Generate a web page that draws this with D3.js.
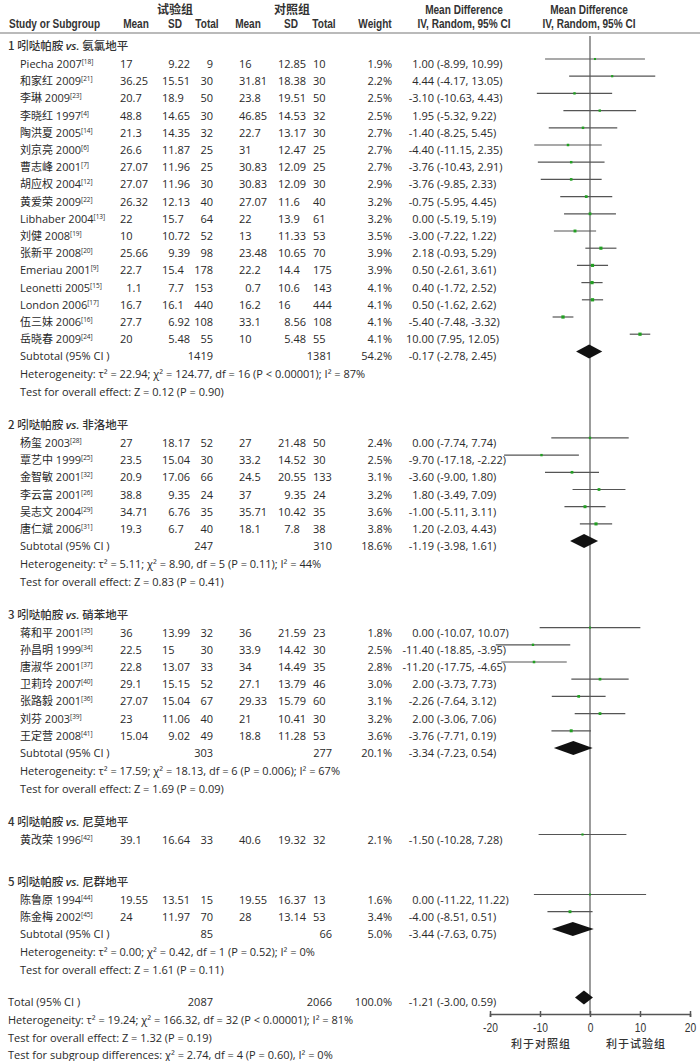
<!DOCTYPE html>
<html><head><meta charset="utf-8">
<script src="https://cdn.jsdelivr.net/npm/d3@7"></script>
<style>
body{margin:0;background:#fff}
text{font-family:'Open Sans','Noto Sans CJK SC',sans-serif;font-size:11px;fill:#2a2a2a}
.hdr{font-family:'Liberation Sans','Arial','Noto Sans CJK SC',sans-serif;font-size:12.6px;font-weight:bold;fill:#333}
.hcjk{font-family:'Noto Sans CJK SC',sans-serif;font-size:12px;font-weight:bold;fill:#333}
.gt{font-family:'Noto Sans CJK SC',sans-serif;font-size:11.5px;font-weight:500;fill:#333}
.cjk{font-family:'Open Sans','Noto Sans CJK SC',sans-serif}
.axis text{font-family:'Liberation Sans','Arial',sans-serif;font-size:12.8px;fill:#333}
.fav{font-family:'Noto Sans CJK SC',sans-serif;font-size:11px;font-weight:500;fill:#333;letter-spacing:1px}
</style>
</head><body>
<svg id="chart" width="700" height="1061"></svg>
<script>
// ---------------- data ----------------
const groupNumbers = [1, 2, 3, 4, 5];
const groupDrug = ["吲哒帕胺", "吲哒帕胺", "吲哒帕胺", "吲哒帕胺", "吲哒帕胺"];
const groupComparator = ["氨氯地平", "非洛地平", "硝苯地平", "尼莫地平", "尼群地平"];

const studyGroup = [0,0,0,0,0,0,0,0,0,0,0,0,0,0,0,0,0, 1,1,1,1,1,1, 2,2,2,2,2,2,2, 3, 4,4];
const studyNames = ["Piecha 2007","和家红 2009","李琳 2009","李晓红 1997","陶洪夏 2005","刘京亮 2000","曹志峰 2001","胡应权 2004","黄爱荣 2009","Libhaber 2004","刘健 2008","张新平 2008","Emeriau 2001","Leonetti 2005","London 2006","伍三妹 2006","岳晓春 2009",
  "杨玺 2003","覃艺中 1999","金智敏 2001","李云富 2001","吴志文 2004","唐仁斌 2006",
  "蒋和平 2001","孙昌明 1999","唐淑华 2001","卫莉玲 2007","张路毅 2001","刘芬 2003","王定营 2008",
  "黄改荣 1996",
  "陈鲁原 1994","陈金梅 2002"];
const studyRefs = [18,21,23,4,14,6,7,12,22,13,19,20,9,15,17,16,24, 28,25,32,26,29,31, 35,34,37,40,36,39,41, 42, 44,45];
const expMean = [17,36.25,20.7,48.8,21.3,26.6,27.07,27.07,26.32,22,10,25.66,22.7,1.1,16.7,27.7,20, 27,23.5,20.9,38.8,34.71,19.3, 36,22.5,22.8,29.1,27.07,23,15.04, 39.1, 19.55,24];
const expSD = [9.22,15.51,18.9,14.65,14.35,11.87,11.96,11.96,12.13,15.7,10.72,9.39,15.4,7.7,16.1,6.92,5.48, 18.17,15.04,17.06,9.35,6.76,6.7, 13.99,15,13.07,15.15,15.04,11.06,9.02, 16.64, 13.51,11.97];
const expN = [9,30,50,30,32,25,25,30,40,64,52,98,178,153,440,108,55, 52,30,66,24,35,40, 32,30,33,52,67,40,49, 33, 15,70];
const ctlMean = [16,31.81,23.8,46.85,22.7,31,30.83,30.83,27.07,22,13,23.48,22.2,0.7,16.2,33.1,10, 27,33.2,24.5,37,35.71,18.1, 36,33.9,34,27.1,29.33,21,18.8, 40.6, 19.55,28];
const ctlSD = [12.85,18.38,19.51,14.53,13.17,12.47,12.09,12.09,11.6,13.9,11.33,10.65,14.4,10.6,16,8.56,5.48, 21.48,14.52,20.55,9.35,10.42,7.8, 21.59,14.42,14.49,13.79,15.79,10.41,11.28, 19.32, 16.37,13.14];
const ctlN = [10,30,50,32,30,25,25,30,40,61,53,70,175,143,444,108,55, 50,30,133,24,35,38, 23,30,35,46,60,30,53, 32, 13,53];
const weights = [1.9,2.2,2.5,2.5,2.7,2.7,2.7,2.9,3.2,3.2,3.5,3.9,3.9,4.1,4.1,4.1,4.1, 2.4,2.5,3.1,3.2,3.6,3.8, 1.8,2.5,2.8,3.0,3.1,3.2,3.6, 2.1, 1.6,3.4];
const meanDiff = [1.00,4.44,-3.10,1.95,-1.40,-4.40,-3.76,-3.76,-0.75,0.00,-3.00,2.18,0.50,0.40,0.50,-5.40,10.00, 0.00,-9.70,-3.60,1.80,-1.00,1.20, 0.00,-11.40,-11.20,2.00,-2.26,2.00,-3.76, -1.50, 0.00,-4.00];
const ciLow = [-8.99,-4.17,-10.63,-5.32,-8.25,-11.15,-10.43,-9.85,-5.95,-5.19,-7.22,-0.93,-2.61,-1.72,-1.62,-7.48,7.95, -7.74,-17.18,-9.00,-3.49,-5.11,-2.03, -10.07,-18.85,-17.75,-3.73,-7.64,-3.06,-7.71, -10.28, -11.22,-8.51];
const ciHigh = [10.99,13.05,4.43,9.22,5.45,2.35,2.91,2.33,4.45,5.19,1.22,5.29,3.61,2.52,2.62,-3.32,12.05, 7.74,-2.22,1.80,7.09,3.11,4.43, 10.07,-3.95,-4.65,7.73,3.12,7.06,0.19, 7.28, 11.22,0.51];

const subExpN = [1419,247,303,null,85];
const subCtlN = [1381,310,277,null,66];
const subWeight = [54.2,18.6,20.1,null,5.0];
const subMD = [-0.17,-1.19,-3.34,null,-3.44];
const subLow = [-2.78,-3.98,-7.23,null,-7.63];
const subHigh = [2.45,1.61,0.54,null,0.75];
const hetTau2 = [22.94,5.11,17.59,null,0.00];
const hetChi2 = [124.77,8.90,18.13,null,0.42];
const hetDf = [16,5,6,null,1];
const hetP = ["P < 0.00001","P = 0.11","P = 0.006",null,"P = 0.52"];
const hetI2 = [87,44,67,null,0];
const testZ = [0.12,0.83,1.69,null,1.61];
const testP = ["0.90","0.41","0.09",null,"0.11"];

const totalExpN = 2087, totalCtlN = 2066, totalWeight = 100.0;
const totalMD = -1.21, totalLow = -3.00, totalHigh = 0.59;
const totalTau2 = 19.24, totalChi2 = 166.32, totalDf = 32, totalHetP = "P < 0.00001", totalI2 = 81;
const totalZ = 1.32, totalZP = "0.19";
const subgroupChi2 = 2.74, subgroupDf = 4, subgroupP = "0.60", subgroupI2 = 0;

const axisTicks = [-20, -10, 0, 10, 20];
const favourLeft = "利于对照组", favourRight = "利于试验组";

// ---------------- layout ----------------
const svg = d3.select("#chart");
const f2 = v => v.toFixed(2);
const L = {title0: 46, titleToRow: 18, rowStep: 17.2, subToHet: 18, hetToTest: 18, testToTitle: 32.5, loneToTitle: 42, totStep: 17.6, markShift: 5, base: 4};
const col = {title: 8, name: 20, m1: 120, sd1: 162, n1: 213, m2: 239, sd2: 278, n2: 313, n2r: 332, w: 392, est: 434, ci: 437};
const x = d3.scaleLinear().domain([-20, 20]).range([490, 690]);
const digitW = 6.3;
const condense = 0.8;

const rows = [];
let y = L.title0;
groupNumbers.forEach((gn, g) => {
  rows.push({type: "title", g, y});
  y += L.titleToRow;
  const idx = studyGroup.map((sg, i) => sg === g ? i : -1).filter(i => i >= 0);
  idx.forEach((i, k) => { if (k > 0) y += L.rowStep; rows.push({type: "study", i, y}); });
  if (subMD[g] !== null) {
    y += L.rowStep; rows.push({type: "sub", g, y});
    y += L.subToHet; rows.push({type: "het", g, y});
    y += L.hetToTest; rows.push({type: "test", g, y});
    y += L.testToTitle;
  } else {
    y += L.loneToTitle;
  }
});
const totalY = y;
rows.push({type: "total", y: totalY});
rows.push({type: "thet", y: totalY + L.totStep});
rows.push({type: "ttest", y: totalY + 2 * L.totStep});
rows.push({type: "tsub", y: totalY + 3 * L.totStep});

// ---------------- header ----------------
const hdr = svg.append("g");
const h1 = 13.5, h2 = 27.5;
function narrow(parent, s, hx, hy, anchor, cls) {
  return parent.append("text").attr("class", cls || "hdr")
    .attr("transform", `translate(${hx},${hy}) scale(${condense},1)`)
    .attr("text-anchor", anchor).text(s);
}
hdr.append("text").attr("class", "hcjk").attr("x", 175).attr("y", h1).attr("text-anchor", "middle").text("试验组");
hdr.append("text").attr("class", "hcjk").attr("x", 292).attr("y", h1).attr("text-anchor", "middle").text("对照组");
narrow(hdr, "Mean Difference", 464, h1, "middle");
narrow(hdr, "Mean Difference", 589, h1, "middle");
const h2labels = [["Study or Subgroup", 9, "start"], ["Mean", 136, "middle"], ["SD", 175, "middle"], ["Total", 207, "middle"], ["Mean", 248, "middle"], ["SD", 291, "middle"], ["Total", 324, "middle"], ["Weight", 375, "middle"], ["IV, Random, 95% CI", 464, "middle"], ["IV, Random, 95% CI", 589, "middle"]];
h2labels.forEach(([t, hx, a]) => narrow(hdr, t, hx, h2, a));
svg.append("line").attr("x1", 0).attr("x2", 700).attr("y1", 33).attr("y2", 33).attr("stroke", "#777").attr("stroke-width", 1.2);

// vertical zero line
svg.append("line").attr("x1", x(0)).attr("x2", x(0)).attr("y1", 36).attr("y2", 1014).attr("stroke", "#666").attr("stroke-width", 1.3);

// ---------------- rows ----------------
const tg = svg.append("g");
function txt(tx, ty, s, anchor, cls) {
  const t = tg.append("text").attr("x", tx).attr("y", ty + L.base).attr("text-anchor", anchor || "start").text(s);
  if (cls) t.attr("class", cls);
  return t;
}
function numPad(v, tx, ty) {
  txt(Math.abs(v) < 10 ? tx + digitW : tx, ty, String(v));
}
function ciText(md, lo, hi, ty) {
  txt(col.est, ty, f2(md), "end");
  txt(col.ci, ty, "(" + f2(lo) + ", " + f2(hi) + ")");
}
function diamond(md, lo, hi, cy) {
  svg.append("path")
    .attr("d", d3.line()([[x(lo), cy], [x(md), cy - 7], [x(hi), cy], [x(md), cy + 7]]) + "Z")
    .attr("fill", "#111");
}

rows.forEach(r => {
  const ty = r.y;
  const my = r.y - L.markShift;
  if (r.type === "title") {
    const t = tg.append("text").attr("class", "gt").attr("x", col.title).attr("y", ty + L.base);
    t.append("tspan").text(groupNumbers[r.g] + " " + groupDrug[r.g] + " ");
    t.append("tspan").attr("font-style", "italic").attr("font-family", "'Open Sans',sans-serif").attr("font-weight", "600").text("vs.");
    t.append("tspan").text(" " + groupComparator[r.g]);
  } else if (r.type === "study") {
    const i = r.i;
    const t = txt(col.name, ty, studyNames[i], "start", "cjk");
    t.append("tspan").attr("font-size", "6.5px").attr("dy", -4).text("[" + studyRefs[i] + "]");
    numPad(expMean[i], col.m1, ty);
    numPad(expSD[i], col.sd1, ty);
    txt(col.n1, ty, String(expN[i]), "end");
    numPad(ctlMean[i], col.m2, ty);
    numPad(ctlSD[i], col.sd2, ty);
    txt(col.n2, ty, String(ctlN[i]));
    txt(col.w, ty, weights[i].toFixed(1) + "%", "end");
    ciText(meanDiff[i], ciLow[i], ciHigh[i], ty);
    svg.append("line").attr("x1", x(Math.max(-20, ciLow[i]))).attr("x2", x(Math.min(20, ciHigh[i])))
      .attr("y1", my).attr("y2", my).attr("stroke", "#555").attr("stroke-width", 1.2);
    const s = 1 + weights[i] * 0.55;
    svg.append("rect").attr("x", x(meanDiff[i]) - s / 2).attr("y", my - s / 2).attr("width", s).attr("height", s).attr("fill", "#22a022");
  } else if (r.type === "sub") {
    const g = r.g;
    txt(col.name, ty, "Subtotal (95% CI )");
    txt(col.n1, ty, String(subExpN[g]), "end");
    txt(col.n2r, ty, String(subCtlN[g]), "end");
    txt(col.w, ty, subWeight[g].toFixed(1) + "%", "end");
    ciText(subMD[g], subLow[g], subHigh[g], ty);
    diamond(subMD[g], subLow[g], subHigh[g], my);
  } else if (r.type === "het") {
    const g = r.g;
    txt(col.name, ty, "Heterogeneity: τ² = " + f2(hetTau2[g]) + "; χ² = " + f2(hetChi2[g]) + ", df = " + hetDf[g] + " (" + hetP[g] + "); I² = " + hetI2[g] + "%");
  } else if (r.type === "test") {
    const g = r.g;
    txt(col.name, ty, "Test for overall effect: Z = " + f2(testZ[g]) + " (P = " + testP[g] + ")");
  } else if (r.type === "total") {
    txt(col.title, ty, "Total (95% CI )");
    txt(col.n1, ty, String(totalExpN), "end");
    txt(col.n2r, ty, String(totalCtlN), "end");
    txt(col.w, ty, totalWeight.toFixed(1) + "%", "end");
    ciText(totalMD, totalLow, totalHigh, ty);
    diamond(totalMD, totalLow, totalHigh, my);
  } else if (r.type === "thet") {
    txt(col.title, ty, "Heterogeneity: τ² = " + f2(totalTau2) + "; χ² = " + f2(totalChi2) + ", df = " + totalDf + " (" + totalHetP + "); I² = " + totalI2 + "%");
  } else if (r.type === "ttest") {
    txt(col.title, ty, "Test for overall effect: Z = " + f2(totalZ) + " (P = " + totalZP + ")");
  } else if (r.type === "tsub") {
    txt(col.title, ty, "Test for subgroup differences: χ² = " + f2(subgroupChi2) + ", df = " + subgroupDf + " (P = " + subgroupP + "), I² = " + subgroupI2 + "%");
  }
});

// ---------------- axis ----------------
const axisY = 1014;
const ax = svg.append("g").attr("class", "axis").attr("transform", `translate(0,${axisY})`)
  .call(d3.axisBottom(x).tickValues(axisTicks).tickSizeOuter(0).tickSize(3).tickPadding(6).tickFormat(d => String(d)));
ax.select(".domain").attr("stroke", "#555").attr("stroke-width", 1.5);
ax.selectAll(".tick line").attr("y1", -3).attr("y2", 3).attr("stroke", "#555").attr("stroke-width", 1.5);
ax.selectAll(".tick text").each(function () {
  const t = d3.select(this);
  const ty = +t.attr("y");
  t.attr("y", null).attr("dy", "0.71em").attr("transform", `translate(0,${ty}) scale(${condense},1)`);
});
svg.append("text").attr("class", "fav").attr("x", 541).attr("y", 1048).attr("text-anchor", "middle").text(favourLeft);
svg.append("text").attr("class", "fav").attr("x", 636).attr("y", 1048).attr("text-anchor", "middle").text(favourRight);
</script>
</body></html>
